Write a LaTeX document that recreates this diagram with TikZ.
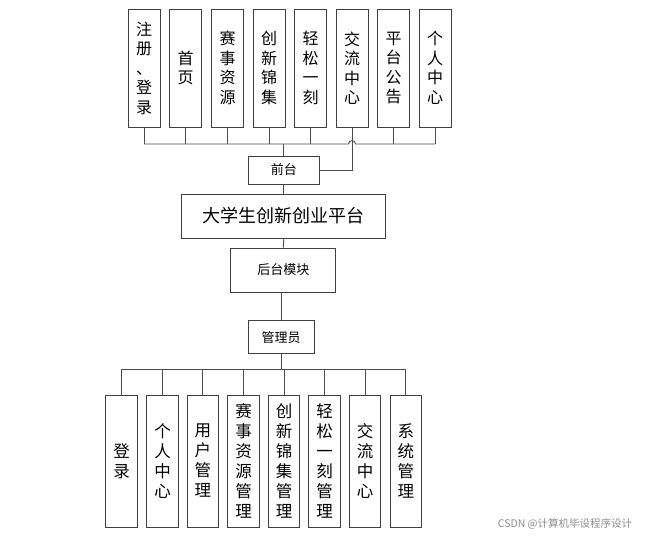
\documentclass[tikz,border=0pt]{standalone}
\usepackage{fontspec}
\newfontfamily\cjk{Noto Sans CJK SC}
\begin{document}
\begin{tikzpicture}[x=1pt,y=-1pt,
  box/.style={draw=black!75, line width=1pt, fill=white, inner sep=0pt, align=center},
  tall/.style={box, minimum width=32pt, minimum height=118pt, font=\cjk\fontsize{16}{19.5}\selectfont},
  low/.style={box, minimum width=31.5pt, minimum height=132pt, font=\cjk\fontsize{16.5}{20}\selectfont},
  small/.style={box, font=\cjk\fontsize{13}{15}\selectfont},
  link/.style={draw=black!70, line width=0.9pt}]
\useasboundingbox (0,0) rectangle (646,536);

% top row
\node[tall] (t1) at (144,68) {注\\册\\、\\登\\录};
\node[tall] (t2) at (185.5,68) {首\\页};
\node[tall] (t3) at (227.5,68) {赛\\事\\资\\源};
\node[tall] (t4) at (269,68) {创\\新\\锦\\集};
\node[tall] (t5) at (310.5,68) {轻\\松\\一\\刻};
\node[tall] (t6) at (352,68) {交\\流\\中\\心};
\node[tall] (t7) at (393.5,68) {平\\台\\公\\告};
\node[tall] (t8) at (435,68) {个\\人\\中\\心};

\coordinate (bus) at (0,144);
\coordinate (bbus) at (0,369);

\node[small, minimum width=71pt, minimum height=28pt] (qt) at (283.8,170) {前台};
\node[box, minimum width=204pt, minimum height=44pt, font=\cjk\fontsize{18}{20}\selectfont] (plat) at (283.8,216) {大学生创新创业平台};
\node[small, minimum width=105pt, minimum height=44pt] (ht) at (283.3,270) {后台模块};
\node[small, minimum width=66pt, minimum height=33pt] (gl) at (281,337.3) {管理员};

% bottom row
\node[low] (b1) at (121.7,461) {登\\录};
\node[low] (b2) at (162.5,461) {个\\人\\中\\心};
\node[low] (b3) at (202.8,461) {用\\户\\管\\理};
\node[low] (b4) at (243.5,461) {赛\\事\\资\\源\\管\\理};
\node[low] (b5) at (284.2,461) {创\\新\\锦\\集\\管\\理};
\node[low] (b6) at (324.5,461) {轻\\松\\一\\刻\\管\\理};
\node[low] (b7) at (365.2,461) {交\\流\\中\\心};
\node[low] (b8) at (405.8,461) {系\\统\\管\\理};

% top connections
\foreach \n in {t1,t2,t3,t4,t5,t7,t8} \draw[link] (\n.south) -- (\n.south|-bus);
\draw[link] (t1.south|-bus) -- ([xshift=-3.5pt]t6.south|-bus)
  .. controls +(0,-4.5) and +(0,-4.5) .. ([xshift=3.5pt]t6.south|-bus) -- (t8.south|-bus);
\draw[link] (qt.north|-bus) -- (qt.north);
\draw[link] (t6.south) -- (t6.south|-qt.east) -- (qt.east);
\draw[link] (qt.south) -- (plat.north);
\draw[link] (plat.south) -- (ht.north);
\draw[link] (gl.north|-ht.south) -- (gl.north);

% bottom connections
\draw[link] (gl.south) -- (gl.south|-bbus);
\draw[link] (b1.north|-bbus) -- (b8.north|-bbus);
\foreach \n in {b1,b2,b3,b4,b5,b6,b7,b8} \draw[link] (\n.north) -- (\n.north|-bbus);

\node[text=black!45, font=\cjk\fontsize{10.5}{12}\selectfont, inner sep=0pt] (wm) at (565,524) {CSDN @计算机毕设程序设计};
\end{tikzpicture}
\end{document}
